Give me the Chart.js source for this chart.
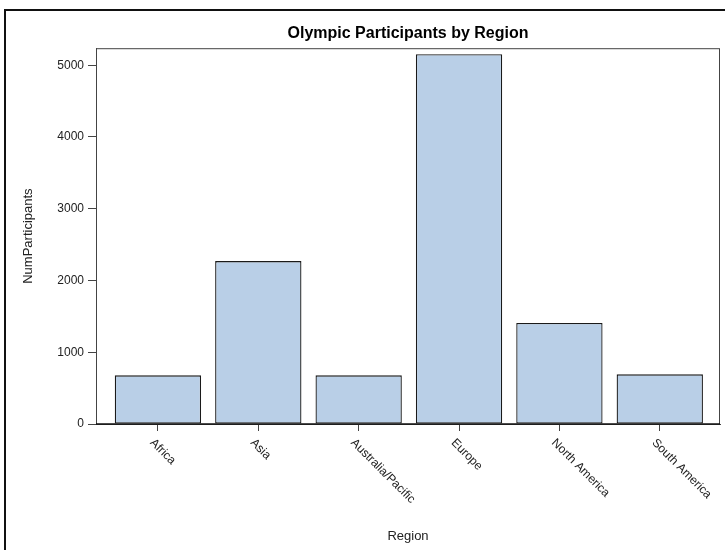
<!DOCTYPE html>
<html>
<head>
<meta charset="utf-8">
<script src="https://cdn.jsdelivr.net/npm/chart.js@4"></script>
<style>
  html, body { margin: 0; padding: 0; background: #fff; }
  #wrap { width: 725px; height: 550px; position: relative; }
</style>
</head>
<body>
<div id="wrap"><canvas id="chart"></canvas></div>
<script>
// ─── data ───
const regions = ['Africa', 'Asia', 'Australia/Pacific', 'Europe', 'North America', 'South America'];
const participants = [678, 2270, 678, 5153, 1407, 692];
const yTicks = [0, 1000, 2000, 3000, 4000, 5000];

const font = "Arial, 'Liberation Sans', sans-serif";
const textColor = '#222';
const lineColor = '#444';

// outer frame (top + left) and plot box
const framePlugin = {
  id: 'frame',
  beforeDraw(chart) {
    const ctx = chart.ctx;
    ctx.save();
    ctx.fillStyle = '#111';
    ctx.fillRect(4, 9, 721, 2);
    ctx.fillRect(4, 9, 2, 541);
    ctx.restore();
  },
  afterDatasetsDraw(chart) {
    const { ctx, chartArea: a } = chart;
    ctx.save();
    ctx.strokeStyle = lineColor;
    ctx.lineWidth = 1;
    ctx.strokeRect(a.left + 0.5, a.top + 0.5, a.right - a.left - 1, a.bottom - a.top);
    // darker base line under the bars
    ctx.strokeStyle = '#111';
    ctx.lineWidth = 1.5;
    ctx.beginPath();
    ctx.moveTo(a.left, a.bottom);
    ctx.lineTo(a.right, a.bottom);
    ctx.stroke();
    ctx.restore();
  }
};

// x labels rotated +45°, starting at the tick
const xLabelPlugin = {
  id: 'xLabels',
  afterDraw(chart) {
    const ctx = chart.ctx;
    const xs = chart.scales.x;
    const y0 = chart.chartArea.bottom;
    ctx.save();
    ctx.fillStyle = textColor;
    ctx.font = '12px ' + font;
    ctx.textAlign = 'left';
    ctx.textBaseline = 'middle';
    regions.forEach((r, i) => {
      const x = xs.getPixelForValue(i);
      ctx.save();
      ctx.translate(x - 6, y0 + 17);
      ctx.rotate(Math.PI / 4);
      ctx.fillText(r, 0, 0);
      ctx.restore();
    });
    ctx.restore();
  }
};

new Chart(document.getElementById('chart'), {
  type: 'bar',
  data: {
    datasets: [{
      data: regions.map((r, i) => ({ x: i, y: participants[i] })),
      backgroundColor: '#b9cfe7',
      borderColor: '#1a1a1a',
      borderWidth: 1.3,
      borderSkipped: false,
      categoryPercentage: 1,
      barPercentage: 0.86,
    }]
  },
  options: {
    responsive: true, maintainAspectRatio: false, animation: false,
    layout: { padding: { left: 0, right: 5, top: 0, bottom: 0 } },
    plugins: {
      legend: { display: false },
      tooltip: { enabled: false },
      title: {
        display: true, text: 'Olympic Participants by Region', fullSize: false,
        color: '#000', font: { family: font, size: 16, weight: 'bold' },
        padding: { top: 24, bottom: 5 }
      }
    },
    scales: {
      x: {
        type: 'linear', min: -0.617, max: 5.6, offset: false,
        afterBuildTicks: s => { s.ticks = regions.map((r, i) => ({ value: i })); },
        afterFit: s => { s.height = 126; },
        ticks: { display: false },
        grid: { drawOnChartArea: false, drawTicks: true, tickLength: 7, color: lineColor, offset: false },
        border: { display: true, color: lineColor, width: 1 },
        title: {
          display: true, text: 'Region', color: textColor,
          font: { family: font, size: 13 }, padding: { top: 0, bottom: 6 }
        }
      },
      y: {
        min: 0, max: 5237,
        afterBuildTicks: s => { s.ticks = yTicks.map(v => ({ value: v })); },
        afterFit: s => { s.width = 96; },
        ticks: { color: textColor, font: { family: font, size: 12 }, padding: 4, callback: v => String(v) },
        grid: { drawOnChartArea: false, drawTicks: true, tickLength: 8, color: lineColor },
        border: { display: true, color: lineColor, width: 1 },
        title: {
          display: true, text: 'NumParticipants', color: textColor,
          font: { family: font, size: 13 }, padding: { top: 21, bottom: 0 }
        }
      }
    }
  },
  plugins: [framePlugin, xLabelPlugin]
});
</script>
</body>
</html>
